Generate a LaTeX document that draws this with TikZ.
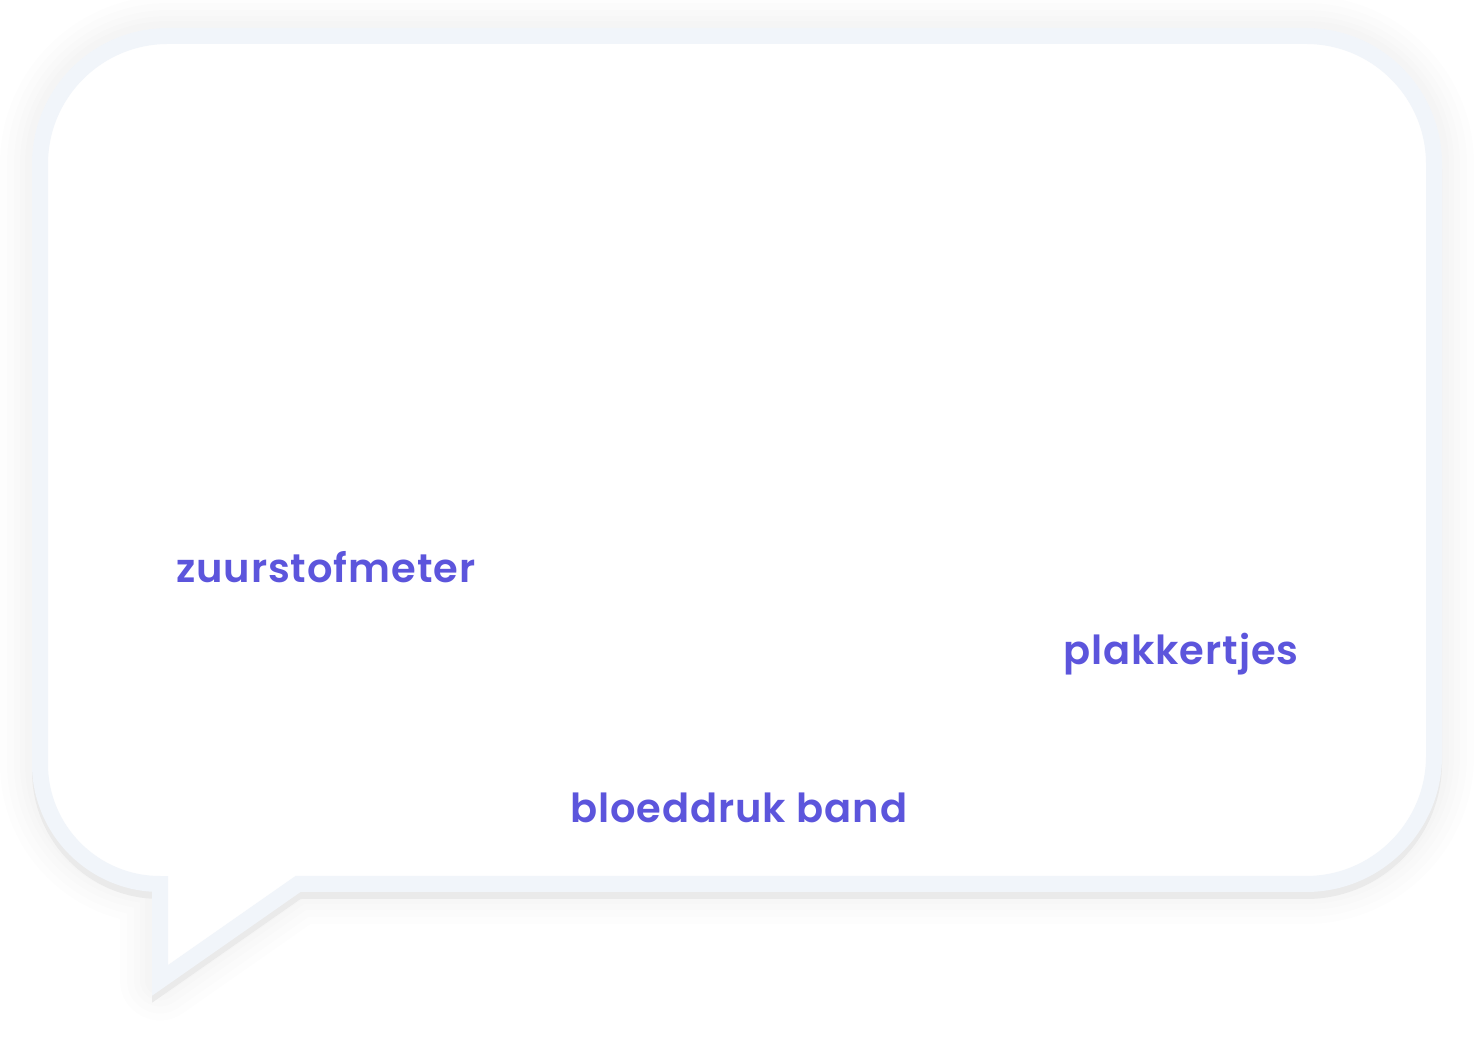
\documentclass[tikz,border=0pt]{standalone}
\usepackage{fontspec}
\setmainfont{Lato}
\newfontfamily\wordfont{Poppins SemiBold}[LetterSpace=2.3]
\usetikzlibrary{calc}

\definecolor{rim}{RGB}{241,245,250}
\definecolor{rimshade}{RGB}{234,234,234}
\definecolor{wordcol}{RGB}{92,85,220}

\tikzset{
	bubble/.style={line width=16pt, line join=miter},
	word/.style={anchor=base west, inner sep=0pt, text=wordcol,
		font=\fontsize{40}{44}\selectfont\wordfont}
}

\begin{document}
\begin{tikzpicture}[x=1pt, y=1pt]

	\useasboundingbox (0,0) rectangle (1474,1048);

	% outline of the bubble
	\def\bubblepath{(298,164) -- (1306,164) arc[start angle=-90, end angle=0, radius=128]
		-- (1434,884) arc[start angle=0, end angle=90, radius=128]
		-- (168,1012) arc[start angle=90, end angle=180, radius=128]
		-- (40,284) arc[start angle=180, end angle=270, radius=120]
		-- (160,67.6) -- cycle}

	% soft shadow
	\foreach \w in {80,66,52,40,30}
		\draw[line width=\w pt, line join=round, black, opacity=0.007] \bubblepath;

	\draw[bubble, rimshade, shift={(0,-7)}] \bubblepath;
	\draw[bubble, rim, fill=white] \bubblepath;

	\node[word] (oxy) at (176,465) {zuurstofmeter};
	\node[word] (patch) at (1063,383) {plakkertjes};
	\node[word] (cuff) at (570,225) {bloeddruk band};

\end{tikzpicture}
\end{document}
